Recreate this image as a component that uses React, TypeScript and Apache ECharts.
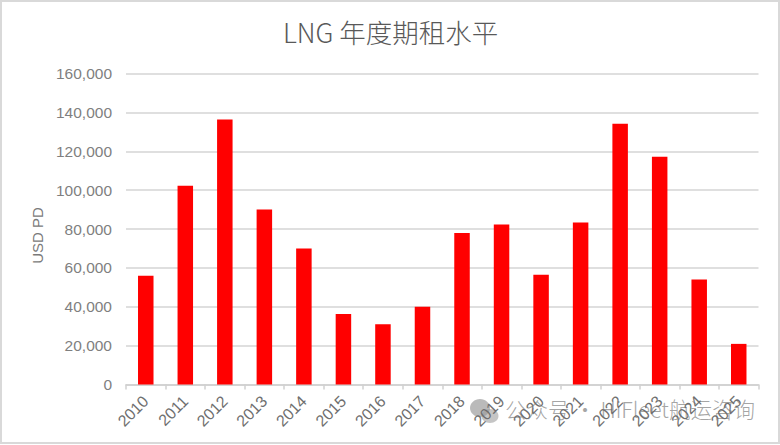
import React, { useEffect, useRef } from "react";
import * as echarts from "echarts";

const titleText = "LNG 年度期租水平";
const yAxisName = "USD PD";
const watermark = "公众号 · HiFleet航运咨询";
const years = ["2010","2011","2012","2013","2014","2015","2016","2017","2018","2019","2020","2021","2022","2023","2024","2025"];
const rates = [56000,102300,136300,90000,70000,36300,31000,40000,78000,82300,56500,83300,134200,117200,54000,20900];

const FONT = "'Noto Sans CJK SC', 'Noto Sans', sans-serif";
const LATIN = "'Liberation Sans', 'Noto Sans CJK SC', sans-serif";

export default function App() {
  const ref = useRef<HTMLDivElement>(null);
  useEffect(() => {
    const chart = echarts.init(ref.current!, undefined, { renderer: "svg", width: 780, height: 445 });
    chart.setOption({
      animation: false,
      backgroundColor: "#ffffff",
      title: {
        text: titleText,
        left: 385.5,
        top: 13,
        textAlign: "center",
        textStyle: { fontFamily: FONT, fontSize: 26.5, fontWeight: 300, color: "#595959" },
      },
      grid: { left: 126, right: 21.5, top: 73.5, bottom: 60.5, containLabel: false },
      xAxis: {
        type: "category",
        data: years,
        axisTick: { show: true, alignWithLabel: false, length: 5, lineStyle: { color: "#d0d0d0", width: 1.5 } },
        axisLine: { lineStyle: { color: "#d0d0d0", width: 1.5 } },
        axisLabel: { rotate: 45, interval: 0, fontFamily: LATIN, fontSize: 16, color: "#6f6f6f", margin: 14 },
      },
      yAxis: {
        type: "value",
        min: 0,
        max: 160000,
        interval: 20000,
        name: yAxisName,
        nameLocation: "middle",
        nameGap: 80,
        nameTextStyle: { fontFamily: LATIN, fontSize: 15, color: "#7a7a7a", padding: [0, 13, 0, 0] },
        axisLine: { show: false },
        axisTick: { show: false },
        splitLine: { lineStyle: { color: "#d4d4d4", width: 1.5 } },
        axisLabel: {
          fontFamily: LATIN,
          fontSize: 15.5,
          color: "#7f7f7f",
          margin: 14,
          formatter: (v: number) => v.toLocaleString("en-US"),
        },
      },
      series: [
        { type: "bar", data: rates, barWidth: 15.5, itemStyle: { color: "#ff0000" } },
      ],
      graphic: [
        {
          type: "rect",
          silent: true,
          shape: { x: 1, y: 1, width: 778, height: 442 },
          style: { fill: "none", stroke: "#d9d9d9", lineWidth: 2 },
        },
        {
          type: "group",
          silent: true,
          children: [
            { type: "ellipse", shape: { cx: 480, cy: 408, rx: 10, ry: 9 }, style: { fill: "rgba(140,140,140,0.6)" } },
            { type: "ellipse", shape: { cx: 490, cy: 416, rx: 8.5, ry: 7 }, style: { fill: "rgba(150,150,150,0.55)" } },
            {
              type: "text",
              x: 505,
              y: 398,
              style: { text: watermark, font: `300 21.5px ${FONT}`, fill: "rgba(130,130,130,0.72)" },
            },
          ],
        },
      ],
    });
    return () => chart.dispose();
  }, []);
  return <div ref={ref} style={{ position: "absolute", left: 0, top: 0, width: 780, height: 445 }} />;
}
